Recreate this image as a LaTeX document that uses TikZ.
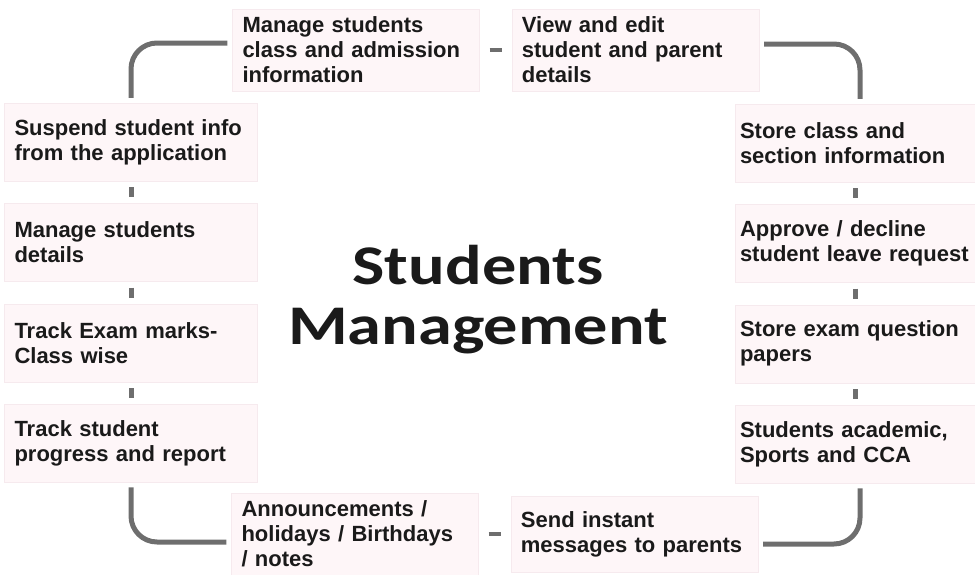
\documentclass[tikz,border=0pt]{standalone}
\usepackage{xcolor}
\usepackage{graphicx}
\usepackage{fontspec}
\setmainfont{Liberation Sans}
\newfontfamily\titlefont{Carlito}
\usepackage{tikz}
\usetikzlibrary{positioning}

\definecolor{boxpink}{HTML}{FEF6F8}
\definecolor{boxedge}{HTML}{F6EAEE}
\definecolor{linkgray}{HTML}{6E6E6E}
\definecolor{inktext}{HTML}{1A1A1A}

\begin{document}
\begin{tikzpicture}[
    x=1pt, y=-1pt,
    node distance=22pt,
    box/.style={draw=boxedge, fill=boxpink, minimum height=78pt, inner xsep=10pt,
        align=left, text=inktext, font=\bfseries\fontsize{22}{25}\selectfont},
    sidebox/.style={box, minimum width=253pt, text width=233pt},
    rightbox/.style={box, minimum width=240pt, inner xsep=5pt, text width=230pt},
    rowbox/.style={box, minimum width=247pt, text width=227pt, minimum height=82pt},
    link/.style={draw=linkgray, line width=5pt, rounded corners=26pt, shorten >=5pt, shorten <=5pt},
    tick/.style={draw=linkgray, line width=5pt, shorten >=6pt, shorten <=6pt},
    title/.style={align=center, text=inktext, font=\titlefont\bfseries\fontsize{56}{60}\selectfont}
]
    \useasboundingbox (0,0) rectangle (975,574);

    % top pair
    \node[rowbox] (admission) at (356,50) {Manage students\\class and admission\\information};
    \node[rowbox, right=32pt of admission] (parentinfo) {View and edit\\student and parent\\details};

    % left column
    \node[sidebox] (suspend) at (131,142) {Suspend student info\\from the application};
    \node[sidebox, below=of suspend] (details) {Manage students\\details};
    \node[sidebox, below=of details] (exammarks) {Track Exam marks-\\Class wise};
    \node[sidebox, below=of exammarks] (progress) {Track student\\progress and report};

    % right column
    \node[rightbox] (sections) at (855,143) {Store class and\\section information};
    \node[rightbox, below=of sections] (leave) {Approve / decline\\student leave request};
    \node[rightbox, below=of leave] (papers) {Store exam question\\papers};
    \node[rightbox, below=of papers] (sports) {Students academic,\\Sports and CCA};

    % bottom pair
    \node[rowbox] (notices) at (355,534) {Announcements /\\holidays / Birthdays\\/ notes};
    \node[rowbox, right=32pt of notices, minimum height=76pt] (messages) {Send instant\\messages to parents};

    \node[title] (center) at (478,300) {\scalebox{1.22}[1]{Students}\\\scalebox{1.22}[1]{Management}};

    % corners
    \draw[link] ([yshift=7pt]admission.west) -| (suspend.north);
    \draw[link] ([yshift=6pt]parentinfo.east) -| ([xshift=5pt]sections.north);
    \draw[link] (progress.south) |- ([yshift=-8pt]notices.west);
    \draw[link] ([xshift=5pt]sports.south) |- ([yshift=-10pt]messages.east);

    % short joins
    \draw[tick] (suspend) -- (details);
    \draw[tick] (details) -- (exammarks);
    \draw[tick] (exammarks) -- (progress);
    \draw[tick] (sections) -- (leave);
    \draw[tick] (leave) -- (papers);
    \draw[tick] (papers) -- (sports);
    \draw[tick, line width=4pt, shorten >=10pt, shorten <=10pt] (admission) -- (parentinfo);
    \draw[tick, line width=4pt, shorten >=10pt, shorten <=10pt] (notices) -- (messages);
\end{tikzpicture}
\end{document}
